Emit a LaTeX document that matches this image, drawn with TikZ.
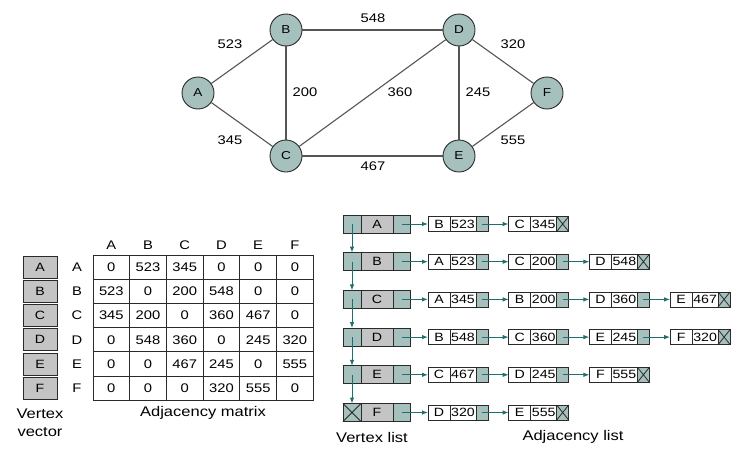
\documentclass[tikz,border=0pt]{standalone}
\usepackage{fontspec}
\setmainfont[FakeStretch=1.18]{Liberation Sans}
\usetikzlibrary{arrows.meta}
\definecolor{tealfill}{HTML}{A5C0BD}
\definecolor{grayfill}{HTML}{C4C4C4}
\definecolor{arrowteal}{HTML}{1E6F6E}
\definecolor{edgegray}{HTML}{555555}
\definecolor{ink}{HTML}{2A2A2A}
\begin{document}
\begin{tikzpicture}[x=1pt,y=-1pt,
  gnode/.style={circle,draw=ink,line width=0.9pt,fill=tealfill,minimum size=32pt,inner sep=0pt,font=\fontsize{11.5}{13}\selectfont},
  gedge/.style={draw=edgegray,line width=1.1pt},
  wlabel/.style={font=\fontsize{12.5}{14}\selectfont,inner sep=0pt},
  mcell/.style={draw=ink,line width=0.8pt,minimum width=36.7pt,minimum height=24.2pt,inner sep=0pt,font=\fontsize{12.5}{14}\selectfont},
  hlabel/.style={inner sep=0pt,font=\fontsize{12.5}{14}\selectfont},
  vvbox/.style={draw=ink,line width=0.8pt,fill=grayfill,minimum width=34pt,minimum height=22pt,inner sep=0pt,font=\fontsize{12}{14}\selectfont},
  tcell/.style={draw=ink,line width=0.8pt,fill=tealfill,minimum height=18pt,inner sep=0pt,outer sep=0pt},
  gcell/.style={draw=ink,line width=0.8pt,fill=grayfill,minimum width=32pt,minimum height=18pt,inner sep=0pt,outer sep=0pt,font=\fontsize{12}{14}\selectfont},
  lcell/.style={draw=ink,line width=0.8pt,fill=white,minimum width=22pt,minimum height=15pt,inner sep=0pt,outer sep=0pt,font=\fontsize{12}{14}\selectfont},
  valcell/.style={draw=ink,line width=0.8pt,fill=white,minimum width=26pt,minimum height=15pt,inner sep=0pt,outer sep=0pt,font=\fontsize{12}{14}\selectfont},
  pcell/.style={draw=ink,line width=0.8pt,fill=tealfill,minimum width=12pt,minimum height=15pt,inner sep=0pt,outer sep=0pt},
  arr/.style={draw=arrowteal,line width=1pt,-{Latex[length=6pt,width=4.5pt]}},
  caption/.style={inner sep=0pt,font=\fontsize{14}{18}\selectfont,align=center}
]
\useasboundingbox (0,0) rectangle (744,458);

% ---------- graph ----------
\node[gnode] (A) at (198,93) {A};
\node[gnode] (B) at (286,30) {B};
\node[gnode] (C) at (286,156) {C};
\node[gnode] (D) at (459,30) {D};
\node[gnode] (E) at (459,156) {E};
\node[gnode] (F) at (547,93) {F};
\draw[gedge] (A) -- (B);
\draw[gedge] (A) -- (C);
\draw[gedge] (B) -- (C);
\draw[gedge] (B) -- (D);
\draw[gedge] (C) -- (D);
\draw[gedge] (C) -- (E);
\draw[gedge] (D) -- (E);
\draw[gedge] (D) -- (F);
\draw[gedge] (E) -- (F);
\node[wlabel] (wAB) at (230,44) {523};
\node[wlabel] (wAC) at (230,140) {345};
\node[wlabel] (wBC) at (305,92) {200};
\node[wlabel] (wBD) at (373,18) {548};
\node[wlabel] (wCD) at (400,92) {360};
\node[wlabel] (wDE) at (478,92) {245};
\node[wlabel] (wDF) at (513,44) {320};
\node[wlabel] (wEF) at (513,140) {555};
\node[wlabel] (wCE) at (373,166) {467};

% ---------- vertex vector ----------
\foreach \r [count=\i] in {A,B,C,D,E,F} {
  \node[vvbox] (vv\r) at (40,{255+24.2*(\i-0.5)}) {\r};
  \node[hlabel] (rl\r) at (77,{255+24.2*(\i-0.5)}) {\r};
  \node[hlabel] (cl\r) at ({93+36.7*(\i-0.5)},245) {\r};
}
\node[caption] (capvv) at (40,423) {Vertex\\vector};

% ---------- adjacency matrix ----------
\foreach \vals [count=\i] in {{0,523,345,0,0,0},{523,0,200,548,0,0},{345,200,0,360,467,0},{0,548,360,0,245,320},{0,0,467,245,0,555},{0,0,0,320,555,0}} {
  \foreach \v [count=\j] in \vals {
    \node[mcell] (m-\i-\j) at ({93+36.7*(\j-0.5)},{255+24.2*(\i-0.5)}) {\v};
  }
}
\node[caption] (capam) at (203,413) {Adjacency matrix};

% ---------- vertex list ----------
\foreach \r [count=\i] in {A,B,C,D,E,F} {
  \node[tcell,minimum width=18pt,anchor=west] (v\r-l) at (343,{224+37.7*(\i-1)}) {};
  \node[gcell,anchor=west] (v\r-m) at (v\r-l.east) {\r};
  \node[tcell,minimum width=17pt,anchor=west] (v\r-r) at (v\r-m.east) {};
}
\foreach \r/\s in {A/B,B/C,C/D,D/E,E/F} {
  \draw[arr] (v\r-l.center) -- (v\s-l.north);
}
\draw[draw=ink,line width=0.8pt] (vF-l.north west) -- (vF-l.south east) (vF-l.south west) -- (vF-l.north east);

% ---------- adjacency lists ----------
\foreach \r/\k/\n/\lst in {A/1/2/{B/523,C/345},B/2/3/{A/523,C/200,D/548},C/3/4/{A/345,B/200,D/360,E/467},D/4/4/{B/548,C/360,E/245,F/320},E/5/3/{C/467,D/245,F/555},F/6/2/{D/320,E/555}} {
  \foreach \l/\v [count=\i] in \lst {
    \node[lcell,anchor=west] (a\r\i-l) at ({428+80.7*(\i-1)},{224+37.7*(\k-1)}) {\l};
    \node[valcell,anchor=west] (a\r\i-v) at (a\r\i-l.east) {\v};
    \node[pcell,anchor=west] (a\r\i-p) at (a\r\i-v.east) {};
    \ifnum\i=1
      \draw[arr] (v\r-r.center) -- (a\r\i-l.west);
    \else
      \pgfmathtruncatemacro\pv{\i-1}
      \draw[arr] (a\r\pv-p.center) -- (a\r\i-l.west);
    \fi
    \ifnum\i=\n
      \draw[draw=ink,line width=0.8pt] (a\r\i-p.north west) -- (a\r\i-p.south east) (a\r\i-p.south west) -- (a\r\i-p.north east);
    \fi
  }
}
\node[caption] (capvl) at (372,437) {Vertex list};
\node[caption] (capal) at (573,437) {Adjacency list};
\end{tikzpicture}
\end{document}
